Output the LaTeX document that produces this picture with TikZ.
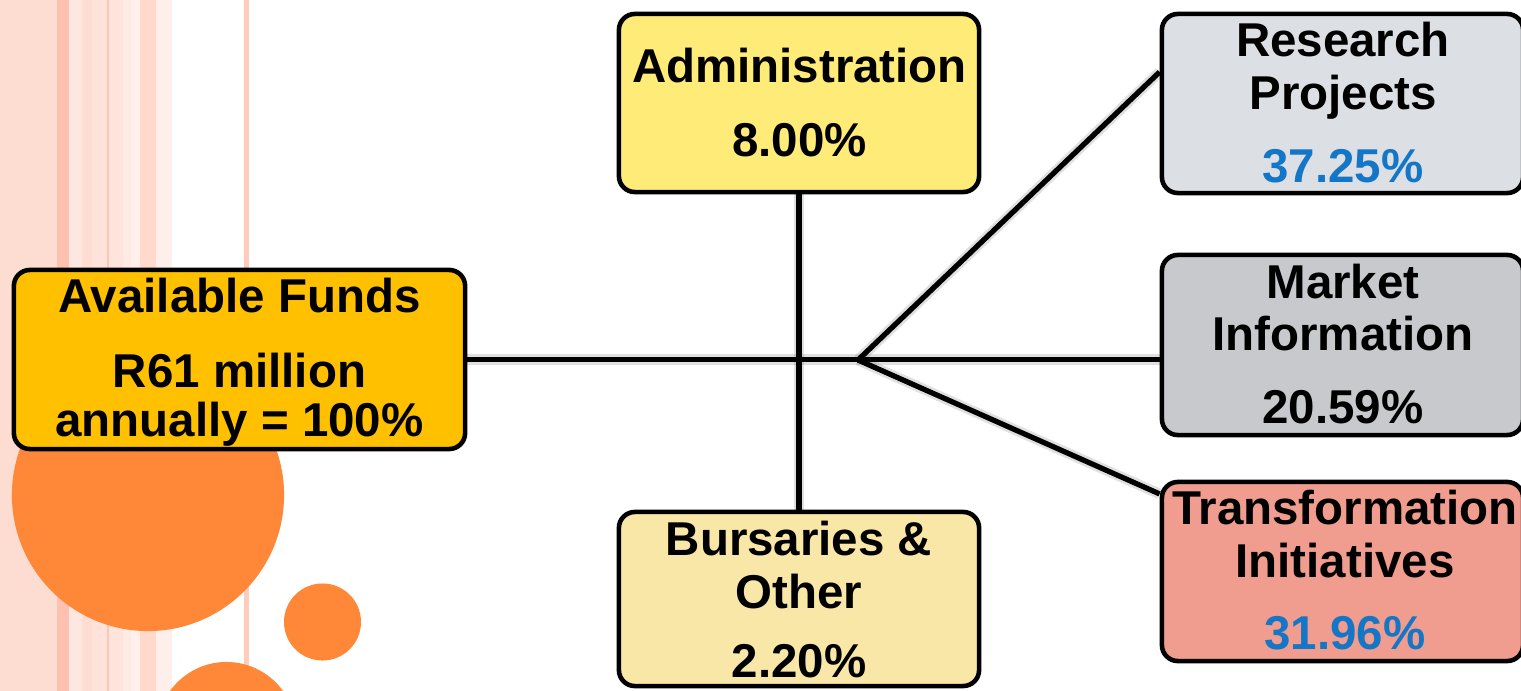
\documentclass[tikz,border=0pt]{standalone}
\usepackage{fontspec}
\setmainfont{Liberation Sans}
\usetikzlibrary{calc}
\definecolor{availc}{HTML}{FFC000}
\definecolor{adminc}{HTML}{FFEB78}
\definecolor{bursc}{HTML}{F9E7A7}
\definecolor{resc}{HTML}{DCDFE4}
\definecolor{marketc}{HTML}{C8C9CD}
\definecolor{transc}{HTML}{F09C8E}
\definecolor{pctblue}{HTML}{1476C6}
\definecolor{orng}{HTML}{FE8838}
\definecolor{sA}{HTML}{FDDCD1}
\definecolor{sB}{HTML}{FFC1AF}
\definecolor{sC}{HTML}{FFE7E1}
\definecolor{sD}{HTML}{FFDDD3}
\definecolor{sE}{HTML}{FFE3DA}
\definecolor{sF}{HTML}{FFC6B6}
\definecolor{sG}{HTML}{FFE4DC}
\definecolor{sH}{HTML}{FFEAE4}
\definecolor{sI}{HTML}{FFF0EB}
\definecolor{sJ}{HTML}{FFD9CB}
\definecolor{sK}{HTML}{FFEFEA}
\definecolor{sL}{HTML}{FFCBBB}
\pgfdeclarelayer{backlayer}
\pgfdeclarelayer{connlayer}
\pgfsetlayers{backlayer,connlayer,main}
\tikzset{
  box/.style={draw=black, line width=1.3pt, rounded corners=0.16cm, inner sep=0pt},
  lbl/.style={anchor=base, inner sep=0pt, font=\bfseries\fontsize{13.5pt}{14.5pt}\selectfont},
  conn/.style={line width=1.5pt, draw=black},
  connshadow/.style={line width=3pt, draw=black, opacity=0.12}
}
\newcommand{\lines}[1]{\begin{tabular}[t]{@{}c@{}}#1\end{tabular}}
\begin{document}
\begin{tikzpicture}[x=0.01cm, y=-0.01cm]
\useasboundingbox (0,0) rectangle (1521,691);
\clip (0,0) rectangle (1521,691);
\begin{pgfonlayer}{backlayer}
\fill[white] (0,0) rectangle (1521,691);
% background stripes
\fill[sA] (0,0) rectangle (57,691);
\fill[sB] (57,0) rectangle (69,691);
\fill[sC] (69,0) rectangle (82,691);
\fill[sD] (82,0) rectangle (92,691);
\fill[sE] (92,0) rectangle (107,691);
\fill[sF] (107,0) rectangle (109,691);
\fill[sG] (109,0) rectangle (123,691);
\fill[sH] (123,0) rectangle (131,691);
\fill[sI] (131,0) rectangle (140,691);
\fill[sJ] (140,0) rectangle (156,691);
\fill[sK] (156,0) rectangle (172,691);
\fill[sL] (244,0) rectangle (249,691);
% circles
\fill[orng] (148,495) circle [radius=1.36cm];
\fill[orng] (322.5,622) circle [radius=0.385cm];
\fill[orng] (226.5,731.5) circle [radius=0.695cm];
\end{pgfonlayer}
% boxes
\node[box, fill=availc, minimum width=4.51cm, minimum height=1.79cm] (avail) at (239.5,359.5) {};
\node[box, fill=adminc, minimum width=3.60cm, minimum height=1.78cm] (admin) at (799,103) {};
\node[box, fill=bursc, minimum width=3.60cm, minimum height=1.74cm] (burs) at (799,599) {};
\node[box, fill=resc, minimum width=3.61cm, minimum height=1.79cm] (research) at (1342.5,103.5) {};
\node[box, fill=marketc, minimum width=3.61cm, minimum height=1.80cm] (market) at (1342.5,345) {};
\node[box, fill=transc, minimum width=3.61cm, minimum height=1.79cm] (trans) at (1342.5,571.5) {};
\coordinate (hub) at (858,360);
\begin{pgfonlayer}{connlayer}
\begin{scope}[xshift=0.015cm, yshift=-0.03cm]
\draw[connshadow] (avail.east) -- (avail.east -| market.west);
\draw[connshadow] (admin.south) -- (burs.north);
\draw[connshadow] (hub) -- ([yshift=0.315cm]research.west);
\draw[connshadow] (hub) -- ([yshift=0.775cm]trans.west);
\end{scope}
\draw[conn] (avail.east) -- (avail.east -| market.west);
\draw[conn] (admin.south) -- (burs.north);
\draw[conn] (hub) -- ([yshift=0.315cm]research.west);
\draw[conn] (hub) -- ([yshift=0.775cm]trans.west);
\end{pgfonlayer}
% texts
\node[lbl] (avail-t) at (239.5,313) {\lines{Available Funds\\[6.6pt] R61 million\\[-0.4pt] annually = 100\%}};
\node[lbl] (admin-t) at (799.5,83) {\lines{Administration\\[6.3pt] 8.00\%}};
\node[lbl] (burs-t) at (799,555) {\lines{Bursaries \&\\[0.8pt] Other\\[4.9pt] 2.20\%}};
\node[lbl] (research-t) at (1343,57) {\lines{Research\\[0.4pt] Projects\\[6.4pt] \textcolor{pctblue}{37.25\%}}};
\node[lbl] (market-t) at (1343,298) {\lines{Market\\[0.4pt] Information\\[6.3pt] 20.59\%}};
\node[lbl] (trans-t) at (1345,524) {\lines{Transformation\\[0.6pt] Initiatives\\[6.2pt] \textcolor{pctblue}{31.96\%}}};
\end{tikzpicture}
\end{document}
